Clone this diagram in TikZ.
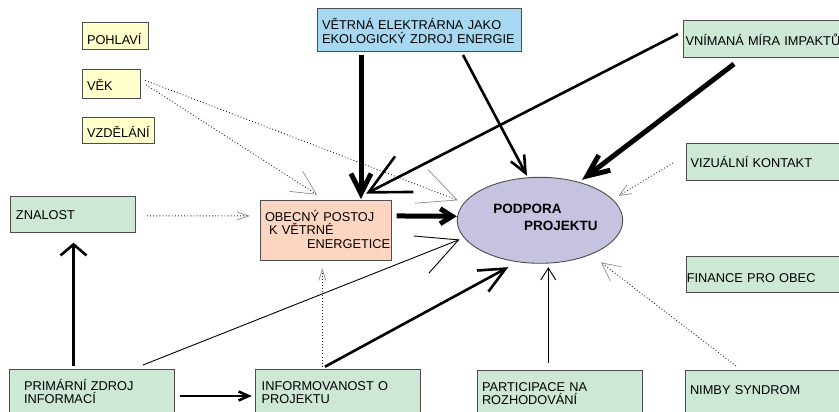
\documentclass[tikz,border=0pt]{standalone}
\usepackage{fontspec}
\setmainfont{Liberation Sans}
\usetikzlibrary{arrows.meta,shapes.geometric}
\definecolor{boxyellow}{HTML}{FFFFCC}
\definecolor{boxblue}{HTML}{A6D8F2}
\definecolor{boxgreen}{HTML}{CDE8D5}
\definecolor{boxsalmon}{HTML}{FDD5C1}
\definecolor{ovalfill}{HTML}{C6C3E1}
\definecolor{edge}{HTML}{4D4D4D}
\begin{document}
\begin{tikzpicture}[x=1pt, y=-1pt,
  box/.style={draw=edge, line width=0.9pt, outer sep=0pt, anchor=north west, align=left, inner ysep=0pt, font=\fontsize{12.8}{13.8}\selectfont},
  dots/.style={draw=black!85, line width=0.9pt, dash pattern=on 0.9pt off 2.2pt},
  barb/.style 2 args={-{Straight Barb[length=#1pt, width=#2pt]}},
  gbarb/.style 2 args={-{Straight Barb[length=#1pt, width=#2pt, color=black!45, line width=0.7pt]}},
  fineline/.style={line width=0.9pt},
  midline/.style={line width=2.6pt},
  heavyline/.style={line width=5pt}]
\useasboundingbox (0,0) rectangle (839,412);
\clip (0,0) rectangle (839,412);
\node[box, fill=boxyellow, text width=56pt, inner xsep=5pt, text height=22pt, text depth=4.7pt] (pohlavi) at (82,22.3) {POHLAVÍ};
\node[box, fill=boxyellow, text width=48pt, inner xsep=5pt, text height=21.4pt, text depth=7.6pt] (vek) at (82,69.3) {VĚK};
\node[box, fill=boxyellow, text width=62pt, inner xsep=5pt, text height=20pt, text depth=6pt] (vzdelani) at (82,117.3) {VZDĚLÁNÍ};
\node[box, fill=boxblue, text width=194pt, inner xsep=5pt, text height=21.3pt, text depth=21.7pt] (vetrna) at (317,8) {VĚTRNÁ ELEKTRÁRNA JAKO\\EKOLOGICKÝ ZDROJ ENERGIE};
\node[box, fill=boxgreen, text width=165pt, inner xsep=2.5pt, text height=26pt, text depth=11pt] (vnimana) at (683,20) {VNÍMANÁ MÍRA IMPAKTŮ};
\node[box, fill=boxgreen, text width=160pt, inner xsep=4.7pt, text height=24pt, text depth=13pt] (vizualni) at (686,143) {VIZUÁLNÍ KONTAKT};
\node[box, fill=boxgreen, text width=168pt, inner xsep=0.8pt, text height=26pt, text depth=10pt] (finance) at (686,256) {FINANCE PRO OBEC};
\node[box, fill=boxgreen, text width=113pt, inner xsep=6pt, text height=23.3pt, text depth=13.4pt] (znalost) at (10,196) {ZNALOST};
\node[box, fill=boxsalmon, text width=121.7pt, inner xsep=5pt, text height=20.3pt, text depth=39pt] (obecny) at (260,200.7) {OBECNÝ POSTOJ\\\hspace*{4pt}K VĚTRNÉ\\\hspace*{42pt}\mbox{ENERGETICE}};
\node[draw=edge, line width=0.9pt, fill=ovalfill, ellipse, minimum width=165.4pt, minimum height=86pt, inner sep=0pt, text width=116pt, align=left, text height=5pt, text depth=19pt, font=\bfseries\fontsize{13.5}{16.7}\selectfont] (podpora) at (540,220.3) {\hspace*{11.3pt}PODPORA\\\hspace*{42pt}PROJEKTU};
\node[box, fill=boxgreen, text width=135pt, inner xsep=15pt, text height=21pt, text depth=39pt] (primarni) at (9,369) {PRIMÁRNÍ ZDROJ\\INFORMACÍ};
\node[box, fill=boxgreen, text width=151.6pt, inner xsep=6.7pt, text height=21pt, text depth=39pt] (informovanost) at (255,369) {INFORMOVANOST O\\PROJEKTU};
\node[box, fill=boxgreen, text width=155pt, inner xsep=5pt, text height=20.3pt, text depth=40pt] (participace) at (477,370.7) {PARTICIPACE NA\\ROZHODOVÁNÍ};
\node[box, fill=boxgreen, text width=161pt, inner xsep=4.3pt, text height=24pt, text depth=36pt] (nimby) at (685.7,370) {NIMBY SYNDROM};
\draw[dots, gbarb={24}{24}] ([shift={(6,1)}]vek.east) -- ([shift={(57,-6)}]obecny.north west);
\draw[dots, gbarb={38}{36}] ([shift={(5,-3.5)}]vek.east) -- ([shift={(1,-20)}]podpora.west);
\draw[heavyline, barb={20}{20}] ([shift={(44,4)}]vetrna.south west) -- ([shift={(101,-1.5)}]obecny.north west);
\draw[midline, barb={17}{15}] ([shift={(146,4)}]vetrna.south west) -- ([shift={(-13,-1)}]podpora.north);
\draw[midline, barb={40}{40}] ([shift={(-5,-4.5)}]vnimana.west) -- ([shift={(106,-7)}]obecny.north west);
\draw[heavyline, barb={22}{19}] ([shift={(51,7)}]vnimana.south west) -- ([shift={(42,3)}]podpora.north);
\draw[dots, gbarb={12}{10}] ([shift={(-13,1.5)}]vizualni.west) -- ([shift={(-4.7,-24.3)}]podpora.east);
\draw[dots, gbarb={12}{8}] ([shift={(12,1.5)}]znalost.east) -- ([shift={(-10,-14.4)}]obecny.west);
\draw[heavyline, barb={12}{15}] ([shift={(5,-14.4)}]obecny.east) -- ([shift={(0,-4)}]podpora.west);
\draw[midline, barb={11}{26}] ([shift={(64.5,-3)}]primarni.north west) -- ([shift={(63.5,10)}]znalost.south west);
\draw[midline, barb={10}{9}] ([shift={(6,27)}]primarni.north east) -- ([shift={(-3.3,27)}]informovanost.north west);
\draw[fineline, barb={40}{40}] ([shift={(134,-4)}]primarni.north west) -- ([shift={(2.7,19.2)}]podpora.west);
\draw[dots, gbarb={11}{7}] ([shift={(67.3,-2.3)}]informovanost.north west) -- ([shift={(62.3,8.3)}]obecny.south west);
\draw[midline, barb={26}{24}] ([shift={(70,-2.3)}]informovanost.north west) -- ([shift={(-31.7,3.4)}]podpora.south);
\draw[fineline, barb={12}{15}] ([shift={(71.3,-8)}]participace.north west) -- ([shift={(8.3,3.4)}]podpora.south);
\draw[dots, gbarb={18}{18}] ([shift={(50.3,-4)}]nimby.north west) -- ([shift={(61,-1.3)}]podpora.south);
\end{tikzpicture}
\end{document}
